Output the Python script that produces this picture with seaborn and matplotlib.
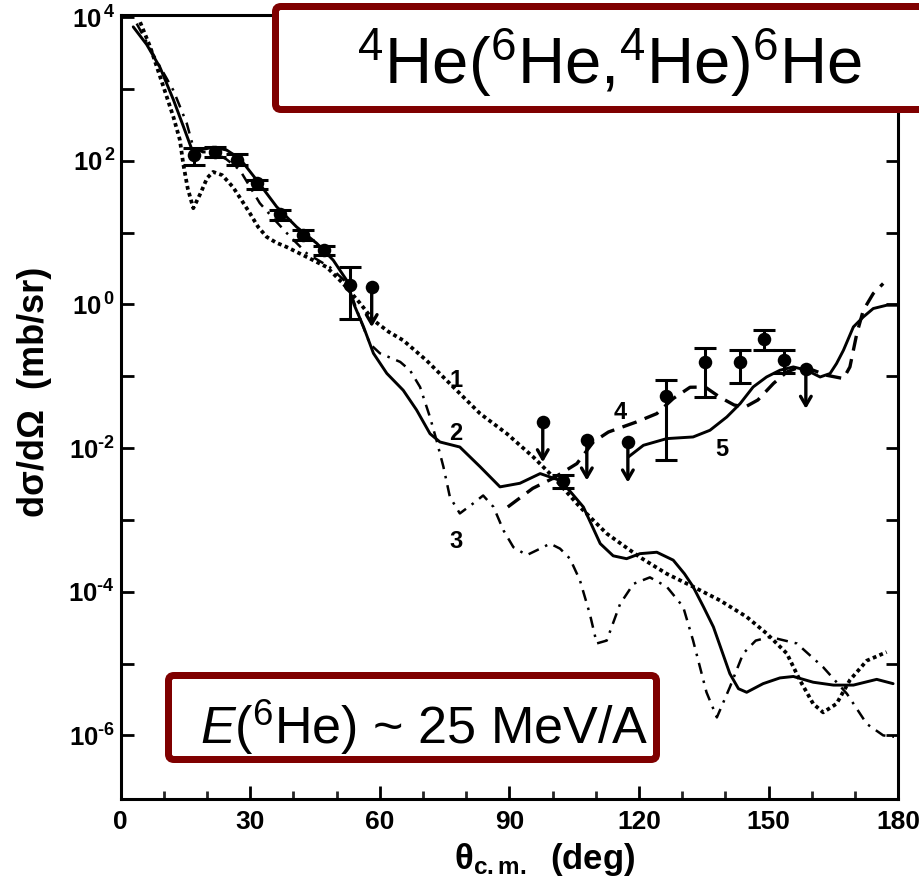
import numpy as np
import pandas as pd
import matplotlib
matplotlib.use("Agg")
import matplotlib.pyplot as plt
import seaborn as sns
from matplotlib.patches import FancyBboxPatch
from matplotlib.ticker import FixedLocator, FixedFormatter
from matplotlib import font_manager

# ---------------- data (theta in deg, log10 of dsigma/dOmega in mb/sr) ----------------
c1_theta = [4.5, 6.8, 9.9, 12.2, 13.7, 14.5, 15.5, 16.8, 18.5, 20.0, 21.4, 23.5, 26.0, 28.0, 29.9,
            31.8, 33.8, 36.0, 38.4, 43.1, 47.7, 51.5, 55.4, 58.5, 62.0, 65.4, 70.8, 77.0, 83.2,
            89.4, 95.5, 100.1, 106.3, 112.5, 120.2, 126.4, 132.5, 138.7, 144.9, 149.5, 154.2,
            157.2, 160.3, 162.6, 165.7, 168.8, 172.7, 177.3]
c1_log = [3.93, 3.59, 3.03, 2.61, 2.29, 1.95, 1.62, 1.34, 1.55, 1.76, 1.845, 1.80, 1.633, 1.45, 1.27,
          1.08, 0.94, 0.86, 0.80, 0.66, 0.52, 0.29, 0.017, -0.22, -0.38, -0.50, -0.78, -1.15, -1.52,
          -1.80, -2.124, -2.40, -2.82, -3.19, -3.52, -3.75, -3.93, -4.12, -4.35, -4.58, -4.86,
          -5.23, -5.56, -5.68, -5.56, -5.23, -4.96, -4.84]

c2_theta = [2.9, 6.0, 9.1, 12.2, 14.5, 16.4, 18.4, 21.4, 24.5, 27.6, 31.5, 36.1, 40.7, 45.4, 49.2,
            52.3, 54.0, 56.2, 58.5, 61.6, 65.4, 68.5, 71.6, 73.9, 78.5, 83.2, 87.8, 92.4, 97.1,
            101.7, 104.0, 107.1, 111.0, 114.0, 117.1, 120.2, 124.1, 127.9, 130.5, 132.5, 134.9,
            137.2, 141.0, 143.0, 144.9, 148.7, 152.6, 155.7, 160.3, 165.0, 169.6, 175.0, 178.8]
c2_log = [3.865, 3.62, 3.30, 2.85, 2.48, 2.17, 2.15, 2.19, 2.15, 2.03, 1.73, 1.36, 1.08, 0.85, 0.616,
          0.337, 0.0, -0.31, -0.68, -0.96, -1.195, -1.47, -1.80, -1.915, -1.985, -2.26, -2.54, -2.49, -2.355,
          -2.45, -2.60, -2.82, -3.33, -3.50, -3.54, -3.47, -3.45, -3.56, -3.75, -3.93, -4.21,
          -4.49, -5.14, -5.35, -5.40, -5.28, -5.20, -5.18, -5.26, -5.30, -5.30, -5.22, -5.28]

c3_theta = [3.7, 9.1, 12.2, 15.3, 16.8, 19.0, 21.4, 24.5, 27.6, 32.2, 35.3, 38.5, 43.1, 48.4, 52.4,
            55.4, 57.7, 60.0, 64.7, 67.0, 69.3, 71.6, 73.1, 74.7, 76.2, 78.5, 81.6, 83.9, 86.3,
            88.6, 90.9, 94.0, 97.1, 99.4, 101.7, 104.0, 106.3, 108.6, 110.2, 112.5, 115.6, 118.7,
            122.5, 126.4, 130.2, 132.5, 135.6, 138.0, 141.0, 144.1, 147.0, 150.3, 156.5, 162.6,
            168.1, 172.7, 176.5, 179.0]
c3_log = [3.91, 3.31, 2.98, 2.52, 2.19, 2.12, 2.12, 2.02, 1.87, 1.41, 1.20, 0.99, 0.71, 0.52, 0.30,
          -0.20, -0.55, -0.68, -0.80, -0.92, -1.15, -1.57, -1.89, -2.26, -2.68, -2.91, -2.77, -2.66, -2.82,
          -3.145, -3.38, -3.49, -3.40, -3.33, -3.40, -3.54, -3.84, -4.31, -4.72, -4.68, -4.17, -3.89,
          -3.80, -3.93, -4.21, -4.68, -5.40, -5.75, -5.33, -4.86, -4.68, -4.63, -4.72, -5.05,
          -5.42, -5.84, -6.00, -6.02]

c4_theta = [89.6, 95.4, 100.1, 105.6, 109.4, 112.9, 119.4, 124.1, 127.9, 131.8, 135.3, 138.7, 142.0,
            144.5, 147.5, 151.1, 154.2, 157.2, 160.3, 163.4, 167.3, 168.8, 170.4, 171.9, 174.2, 176.5]
c4_log = [-2.82, -2.56, -2.42, -2.216, -1.915, -1.776, -1.636, -1.52, -1.31, -1.153, -1.15, -1.292, -1.40,
          -1.43, -1.33, -1.10, -0.94, -0.870, -0.916, -0.986, -1.032, -0.870, -0.405, -0.081, 0.152, 0.291]

c5_theta = [117.5, 121.0, 126.4, 132.5, 136.4, 140.3, 143.4, 146.4, 149.5, 152.6, 155.7, 158.8, 161.9,
            164.2, 165.7, 167.3, 169.6, 171.9, 174.2, 177.3, 179.7]
c5_log = [-2.124, -1.961, -1.868, -1.845, -1.752, -1.567, -1.380, -1.149, -1.010, -0.916, -0.870, -0.916,
          -1.010, -0.962, -0.823, -0.638, -0.313, -0.174, -0.057, -0.011, -0.011]

# experimental points with error bars (log10 of value, low, high)
exp_theta = [17.0, 21.8, 27.0, 31.5, 36.9, 42.3, 47.1, 53.1, 102.4, 126.2, 135.3, 143.4, 148.8, 153.5]
exp_log = [2.08, 2.124, 2.018, 1.684, 1.266, 0.964, 0.755, 0.267, -2.46, -1.279, -0.805, -0.80, -0.475, -0.768]
exp_lo = [1.94, 2.05, 1.94, 1.61, 1.18, 0.894, 0.685, -0.206, -2.55, -2.17, -1.285, -1.10, -0.628, -0.95]
exp_hi = [2.175, 2.19, 2.09, 1.73, 1.312, 1.033, 0.81, 0.522, -2.37, -1.055, -0.607, -0.638, -0.36, -0.628]

# upper limits
ul_theta = [58.1, 97.7, 107.9, 117.4, 158.6]
ul_log = [0.244, -1.637, -1.891, -1.919, -0.893]

curve_labels = ["1", "2", "3", "4", "5"]
title_text = r"$^{4}$He($^{6}$He,$^{4}$He)$^{6}$He"
energy_text = r"$\mathit{E}$($^{6}$He) ~ 25 MeV/A"
x_ticks = [0, 30, 60, 90, 120, 150, 180]
y_major = [1e4, 1e2, 1e0, 1e-2, 1e-4, 1e-6]
y_major_labels = ["$\\mathbf{10^{\\,4}}$", "$\\mathbf{10^{\\,2}}$", "$\\mathbf{10^{\\,0}}$",
                  "$\\mathbf{10^{\u20102}}$", "$\\mathbf{10^{\u20104}}$", "$\\mathbf{10^{\u20106}}$"]
y_minor = [1e3, 1e1, 1e-1, 1e-3, 1e-5]

# ---------------- styling ----------------
sns.set_theme(style="ticks")
avail = {f.name for f in font_manager.fontManager.ttflist}
narrow = "Liberation Sans Narrow" if "Liberation Sans Narrow" in avail else "Liberation Sans"
plt.rcParams["font.family"] = ["Liberation Sans", "DejaVu Sans"]
plt.rcParams["mathtext.fontset"] = "custom"
plt.rcParams["mathtext.rm"] = "Liberation Sans"
plt.rcParams["mathtext.it"] = "Liberation Sans:italic"
plt.rcParams["mathtext.bf"] = narrow + ":bold"

W, H = 920, 886
fig = plt.figure(figsize=(W / 100, H / 100), dpi=100)
L, R, B, T = 120.7, 898.3, 799.3, 15.0
ax = fig.add_axes([L / W, 1 - B / H, (R - L) / W, (B - T) / H])
ax.set_facecolor("white")
fig.patch.set_facecolor("white")

def frame(theta, logv, name):
    return pd.DataFrame({"theta": theta, "y": 10 ** np.asarray(logv), "curve": name})

lw = 2.1
specs = [
    (frame(c1_theta, c1_log, "1"), dict(linestyle=(0, (1.0, 0.9)), linewidth=2.7)),
    (frame(c2_theta, c2_log, "2"), dict(linestyle="-", linewidth=lw)),
    (frame(c3_theta, c3_log, "3"), dict(linestyle=(0, (4.5, 2.8, 1.0, 2.8)), linewidth=1.8)),
    (frame(c4_theta, c4_log, "4"), dict(linestyle=(0, (4.5, 2.6)), linewidth=2.4)),
    (frame(c5_theta, c5_log, "5"), dict(linestyle="-", linewidth=lw)),
]
for df, kw in specs:
    sns.lineplot(data=df, x="theta", y="y", ax=ax, color="black", sort=False,
                 estimator=None, legend=False, **kw)

ax.set_yscale("log")
ax.set_xlim(0, 180)
ax.set_ylim(10 ** -6.89, 10 ** 4.03)

# experimental data
ev = 10 ** np.asarray(exp_log)
elo = ev - 10 ** np.asarray(exp_lo)
ehi = 10 ** np.asarray(exp_hi) - ev
ax.errorbar(exp_theta, ev, yerr=[elo, ehi], fmt="none", ecolor="black",
            elinewidth=2.2, capsize=8, capthick=2.2, zorder=4)
pts = pd.DataFrame({"theta": exp_theta + ul_theta,
                    "y": np.concatenate([ev, 10 ** np.asarray(ul_log)])})
sns.scatterplot(data=pts, x="theta", y="y", ax=ax, color="black", s=95,
                marker="o", edgecolor="black", linewidth=0, zorder=5, legend=False)
for t, lv in zip(ul_theta, ul_log):
    ax.annotate("", xy=(t, 10 ** (lv - 0.56)), xytext=(t, 10 ** lv),
                arrowprops=dict(arrowstyle="->,head_length=0.55,head_width=0.32",
                                lw=2.4, color="black", shrinkA=0, shrinkB=0),
                zorder=5)

# curve number labels
label_pos = [(77.6, 10 ** -1.06), (77.6, 10 ** -1.80), (77.6, 10 ** -3.30),
             (115.6, 10 ** -1.50), (139.1, 10 ** -2.02)]
for lab, (x, y) in zip(curve_labels, label_pos):
    ax.text(x, y, lab, fontsize=17, fontweight="bold", family=[narrow, "Liberation Sans"],
            ha="center", va="center", color="black")

# axes styling
for s in ax.spines.values():
    s.set_linewidth(2.2)
    s.set_color("black")
ax.set_xticks(x_ticks)
ax.set_xticklabels([str(v) for v in x_ticks])
ax.xaxis.set_minor_locator(FixedLocator([10, 20, 40, 50, 70, 80, 100, 110, 130, 140, 160, 170]))
ax.yaxis.set_major_locator(FixedLocator(y_major))
ax.yaxis.set_major_formatter(FixedFormatter(y_major_labels))
ax.yaxis.set_minor_locator(FixedLocator(y_minor))
ax.yaxis.set_minor_formatter(FixedFormatter([""] * len(y_minor)))
ax.tick_params(axis="x", which="major", direction="in", length=9.5, width=2.0, pad=8,
               labelsize=19, top=False, colors="black")
ax.tick_params(axis="x", which="minor", direction="in", length=5.8, width=2.0, top=False)
ax.tick_params(axis="y", which="both", direction="in", length=9.0, width=2.0, pad=4,
               labelsize=18.5, right=True, colors="black")
for lab in ax.get_xticklabels():
    lab.set_fontweight("bold")
    lab.set_family([narrow, "Liberation Sans"])

ax.set_xlabel(r"θ$_{\mathbf{c.m.}}$  (deg)", fontsize=25, fontweight="bold",
              family=[narrow, "Liberation Sans"], va="center", color="black")
ax.xaxis.set_label_coords((545 - L) / (R - L), (B - 860) / (B - T))
ax.set_ylabel("dσ/dΩ  (mb/sr)", fontsize=26, fontweight="bold",
              family=[narrow, "Liberation Sans"], va="center", color="black")
ax.yaxis.set_label_coords((35 - L) / (R - L), (B - 392) / (B - T))

# boxes
red = "#7f0000"
bw = 7.0
def fbox(x0, y0, x1, y1):
    h = bw / 2
    return FancyBboxPatch(((x0 + h) / W, 1 - (y1 - h) / H), (x1 - x0 - bw) / W, (y1 - y0 - bw) / H,
                          boxstyle="round,pad=0,rounding_size=0.006", transform=fig.transFigure,
                          facecolor="white", edgecolor=red, linewidth=bw * 0.72, zorder=10)
fig.patches.append(fbox(272, 3, 940, 113))
fig.patches.append(fbox(165, 672, 660, 763))
fig.text(609.5 / W, 1 - 84 / H, title_text, fontsize=47, ha="center", va="baseline",
         color="black", zorder=11)
fig.text(424 / W, 1 - 744 / H, energy_text, fontsize=37.5, ha="center", va="baseline",
         color="black", zorder=11)

fig.savefig("out.png", dpi=100, facecolor="white")
